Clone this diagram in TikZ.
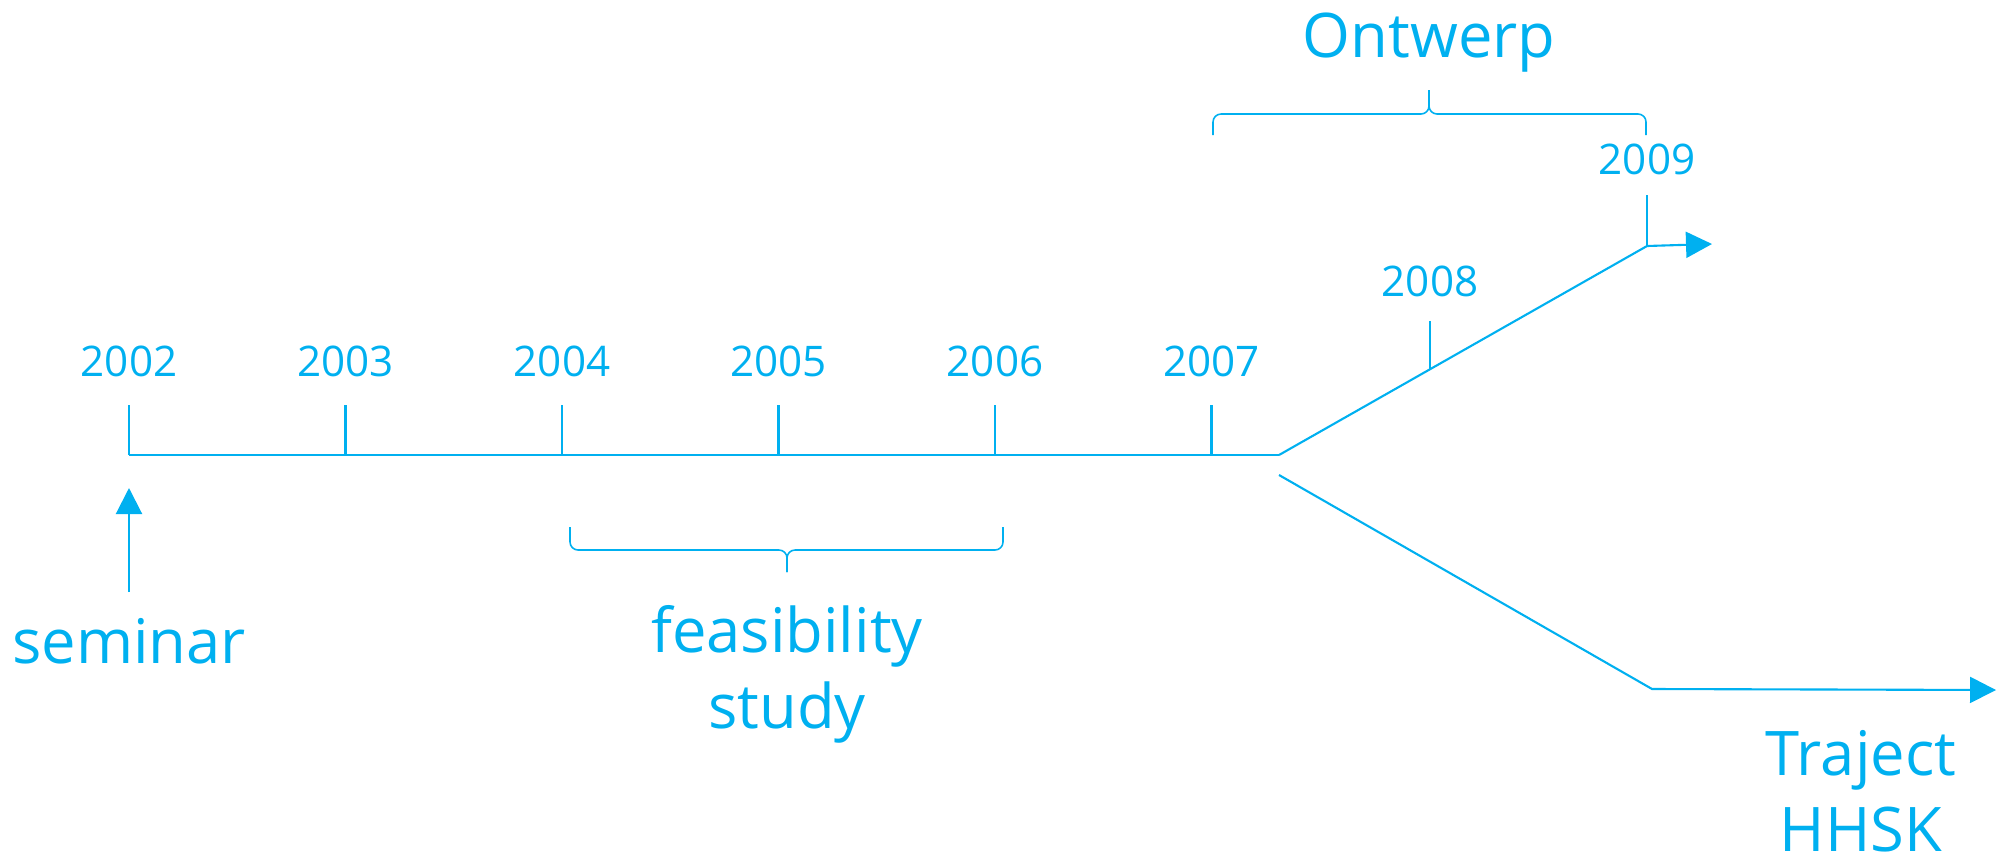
\documentclass[tikz,border=0pt]{standalone}
\usepackage{fontspec}
\setmainfont{Open Sans}
\usetikzlibrary{arrows.meta}
\definecolor{lblue}{HTML}{00B0F0}
\tikzset{
	tijdlijn/.style = {draw = lblue, line width = 0.6pt},
	pijl/.style = {tijdlijn, -{Triangle[length = 7.4pt, width = 7.4pt]}},
	accolade/.style = {draw = lblue, line width = 0.45pt, rounded corners = 0.8mm},
	jaar/.style = {anchor = base, text = lblue, font = \fontsize{12}{14}\selectfont},
	tekst/.style = {anchor = base, inner sep = 0pt, text = lblue, align = center, font = \fontsize{17.5}{21.6}\selectfont}
}
\begin{document}
\begin{tikzpicture}[x = 0.1mm, y = -0.1mm]
		\useasboundingbox (0, 0) rectangle (1997, 865);
		\coordinate (a2002) at (129, 455);
		\coordinate (a2003) at (345.5, 455);
		\coordinate (a2004) at (562, 455);
		\coordinate (a2005) at (778.5, 455);
		\coordinate (a2006) at (995, 455);
		\coordinate (a2007) at (1211.5, 455);
		\coordinate (split) at (1279, 455);
		\coordinate (a2008) at (1430, 369);
		\coordinate (a2009) at (1647, 246);
		\coordinate (eindOntwerp) at (1712, 244);
		\coordinate (splitOnder) at (1279, 475);
		\coordinate (knik) at (1652, 689);
		\coordinate (eindTraject) at (1996, 690);
		\coordinate (seminarVoet) at (129, 592);
		\coordinate (seminarPunt) at (129, 488);
		%%%%%%%%%
		\draw[tijdlijn] (a2002) -- (split);
		\draw[tijdlijn] (a2002) -- ++(0, -50);
		\draw[tijdlijn] (a2003) -- ++(0, -50);
		\draw[tijdlijn] (a2004) -- ++(0, -50);
		\draw[tijdlijn] (a2005) -- ++(0, -50);
		\draw[tijdlijn] (a2006) -- ++(0, -50);
		\draw[tijdlijn] (a2007) -- ++(0, -50);
		\draw[tijdlijn] (a2008) -- ++(0, -48);
		\draw[tijdlijn] (a2009) -- ++(0, -51);
		\draw[pijl] (split) -- (a2009) -- (eindOntwerp);
		\draw[pijl] (splitOnder) -- (knik) -- (eindTraject);
		\draw[pijl] (seminarVoet) -- (seminarPunt);
		%%%%%%%%%
		\node[jaar] (j2002) at (129, 376) {2002};
		\node[jaar] (j2003) at (345.5, 376) {2003};
		\node[jaar] (j2004) at (562, 376) {2004};
		\node[jaar] (j2005) at (778.5, 376) {2005};
		\node[jaar] (j2006) at (995, 376) {2006};
		\node[jaar] (j2007) at (1211.5, 376) {2007};
		\node[jaar] (j2008) at (1430, 296) {2008};
		\node[jaar] (j2009) at (1647, 174) {2009};
		%%%%%%%%%
		\draw[accolade] (1213, 135) |- (1429, 114) -- (1429, 90);
		\draw[accolade] (1646, 135) |- (1429, 114) -- (1429, 90);
		\draw[accolade] (570, 527) |- (787, 550) -- (787, 572);
		\draw[accolade] (1003, 527) |- (787, 550) -- (787, 572);
		%%%%%%%%%
		\node[tekst] (ontwerp) at (1429, 57) {Ontwerp};
		\node[tekst] (seminar) at (129, 663) {seminar};
		\node[tekst] (feasibility) at (787, 728) {feasibility\\study};
		\node[tekst] (traject) at (1861, 851) {Traject\\HHSK};
	\end{tikzpicture}
\end{document}
